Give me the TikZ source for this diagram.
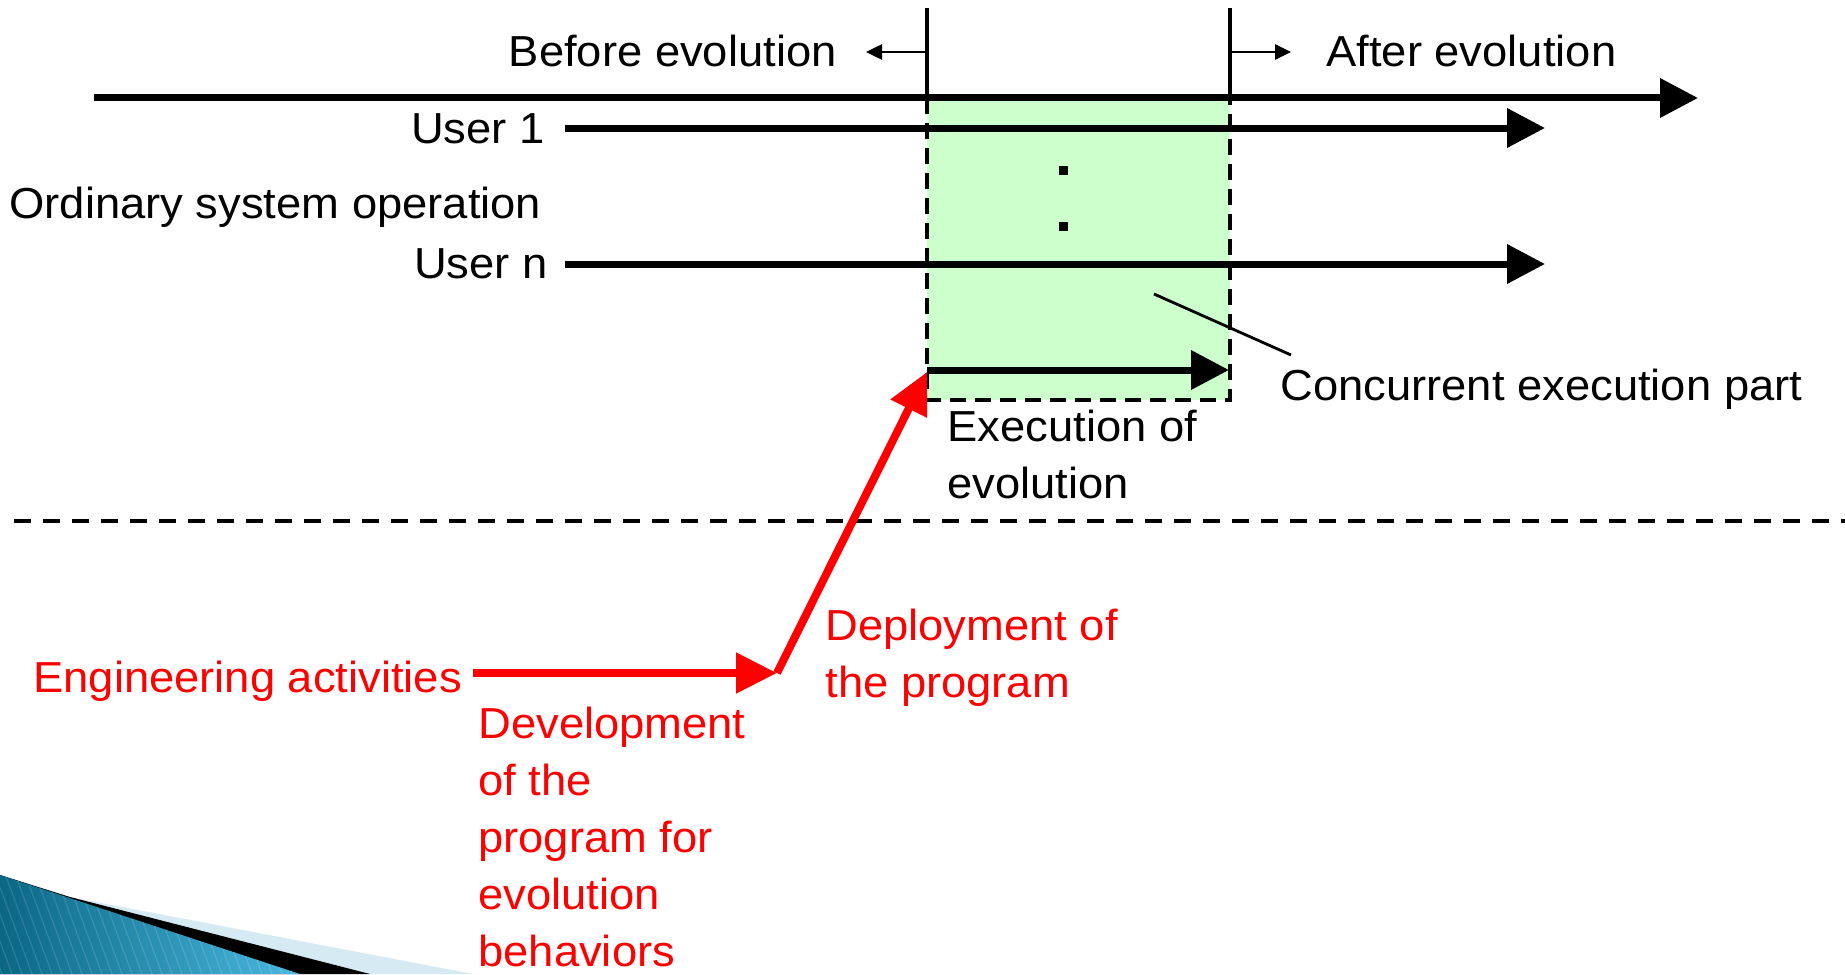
\documentclass[tikz,border=0pt]{standalone}
\usepackage{fontspec}
\setmainfont{Liberation Sans}[FakeStretch=1.045]
\usetikzlibrary{arrows.meta}
\definecolor{boxgreen}{HTML}{CCFFCC}
\definecolor{engred}{HTML}{FF0000}
\definecolor{tealdark}{HTML}{0A6784}
\definecolor{teallight}{HTML}{4AB8E0}
\definecolor{paleblue}{HTML}{D5EAF2}

\begin{document}
\begin{tikzpicture}[x=0.5pt,y=-0.5pt,
  lbl/.style={inner sep=0pt, font=\fontsize{21.7pt}{28.5pt}\selectfont},
  redlbl/.style={lbl, text=engred, align=left},
  bighead/.style={-{Triangle[length=19pt,width=19pt]}},
  timeline/.style={line width=3.5pt, bighead},
  marker/.style={line width=2pt},
  smallarrow/.style={line width=1.3pt, -{Triangle[length=8pt,width=7.5pt]}},
  redarrow/.style={engred, line width=4pt, -{Triangle[length=20.5pt,width=19.5pt]}},
]
\useasboundingbox (0,0) rectangle (1845,974);

% corner decoration
\fill[paleblue] (0,875) -- (70,897) -- (473,974) -- (0,974) -- cycle;
\fill[black] (0,875) -- (70,897) -- (370,974) -- (0,974) -- cycle;
\shade[left color=tealdark, right color=teallight] (0,875) -- (300,974) -- (0,974) -- cycle;
\begin{scope}
  \clip (0,875) -- (300,974) -- (0,974) -- cycle;
  \foreach \i in {-12,...,32}
    \draw[white, opacity=0.13, line width=0.6pt] (\i*10,860) -- ++(45,122);
\end{scope}

% concurrent execution region
\coordinate (boxTL) at (927,98);
\coordinate (boxBR) at (1230,400);
\fill[boxgreen] (boxTL) rectangle (boxBR);
\draw[line width=2.2pt, dash pattern=on 8pt off 4.5pt] (927,98) -- (927,400) -- (1230,400) -- (1230,98);

% evolution boundaries
\coordinate (evoL) at (927,8);
\coordinate (evoR) at (1230,8);
\draw[marker] (evoL) -- (927,98);
\draw[marker] (evoR) -- (1230,98);
\draw[smallarrow] (927,52) -- (866,52);
\draw[smallarrow] (1230,52) -- (1291,52);
\node[lbl, anchor=base east] (before) at (837,67) {Before evolution};
\node[lbl, anchor=base west] (after) at (1326,67) {After evolution};

% system time line
\coordinate (axisS) at (94,98);
\coordinate (axisE) at (1698,98);
\draw[timeline] (axisS) -- (axisE);

% users
\node[lbl, anchor=base east] (user1) at (545,143) {User 1};
\node[lbl, anchor=base east] (usern) at (548,278) {User n};
\node[lbl, anchor=base west] (ordinary) at (9,218) {Ordinary system operation};
\coordinate (u1S) at (565,128);
\coordinate (u1E) at (1545,128);
\coordinate (unS) at (565,264);
\coordinate (unE) at (1545,264);
\draw[timeline] (u1S) -- (u1E);
\draw[timeline] (unS) -- (unE);
\fill (1059,166) rectangle (1068,175);
\fill (1059,222) rectangle (1068,231);

% evolution execution
\coordinate (exS) at (927,370);
\coordinate (exE) at (1229,370);
\draw[timeline] (exS) -- (exE);
\node[lbl, anchor=north west, align=left] (exec) at (947,410) {Execution of\\evolution};

% concurrent part label
\node[lbl, anchor=base west] (conc) at (1280,400) {Concurrent execution part};
\coordinate (leadS) at (1154,294);
\coordinate (leadE) at (1291,355);
\draw[line width=1.4pt] (leadS) -- (leadE);

% separator
\coordinate (sepS) at (14,521);
\coordinate (sepE) at (1845,521);
\draw[line width=2.4pt, dash pattern=on 8.5pt off 6pt] (sepS) -- (sepE);

% engineering activities
\node[redlbl, anchor=base west] (eng) at (33,692) {Engineering activities};
\coordinate (devS) at (473,673);
\coordinate (devE) at (777,673);
\coordinate (depE) at (927,372);
\draw[redarrow] (devS) -- (devE);
\draw[redarrow] (devE) -- (depE);
\node[redlbl, anchor=north west] (dev) at (478,707) {Development\\of the\\program for\\evolution\\behaviors};
\node[redlbl, anchor=north west] (dep) at (825,609) {Deployment of\\the program};
\end{tikzpicture}
\end{document}
